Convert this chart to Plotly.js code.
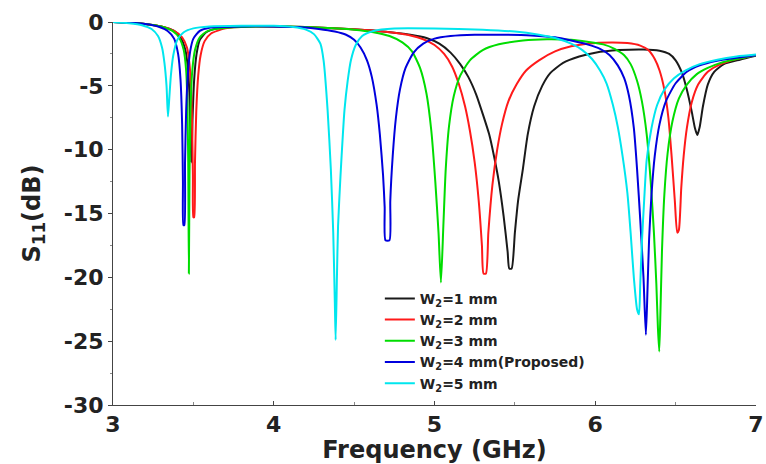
<!DOCTYPE html>
<html>
<head>
<meta charset="utf-8">
<script src="https://cdn.plot.ly/plotly-3.0.1.min.js"></script>
<style>html,body{margin:0;padding:0;background:#fff;}#chart{width:766px;height:464px;}</style>
</head>
<body>
<div id="chart"></div>
<script>
// ---- Data ----
const seriesNames = ["W<sub>2</sub>=1 mm", "W<sub>2</sub>=2 mm", "W<sub>2</sub>=3 mm", "W<sub>2</sub>=4 mm(Proposed)", "W<sub>2</sub>=5 mm"];
const seriesColors = ["#1a1a1a", "#ff1a1a", "#00dd00", "#0000dd", "#00e6ee"];

const freqW1 = [3.00,3.10,3.20,3.30,3.38,3.42,3.45,3.465,3.475,3.48,3.487,3.495,3.505,3.52,3.54,3.58,3.65,3.80,4.00,4.20,4.40,4.60,4.75,4.85,4.95,5.03,5.10,5.16,5.21,5.26,5.30,5.34,5.37,5.40,5.43,5.455,5.465,5.48,5.50,5.52,5.55,5.58,5.62,5.67,5.72,5.80,5.90,6.00,6.15,6.30,6.40,6.46,6.50,6.54,6.57,6.60,6.62,6.635,6.65,6.67,6.70,6.74,6.80,6.90,7.00];
const s11W1  = [0,-0.05,-0.15,-0.35,-0.7,-1.2,-2.2,-3.5,-5.5,-8,-11,-7.5,-4.5,-2.5,-1.4,-0.8,-0.5,-0.35,-0.35,-0.4,-0.5,-0.65,-0.85,-1.0,-1.25,-1.7,-2.4,-3.3,-4.3,-5.7,-7.2,-8.8,-10.5,-12.5,-15.2,-18,-19.3,-19.3,-16.5,-14,-11.5,-8.8,-6.6,-5.0,-4.0,-3.2,-2.7,-2.4,-2.2,-2.15,-2.25,-2.5,-3.0,-4.0,-5.3,-7.0,-8.3,-8.85,-8.2,-6.6,-4.9,-3.9,-3.3,-2.95,-2.65];

const freqW2 = [3.00,3.10,3.20,3.30,3.38,3.43,3.46,3.475,3.485,3.492,3.497,3.50,3.505,3.51,3.518,3.53,3.545,3.57,3.61,3.70,3.85,4.00,4.20,4.40,4.60,4.75,4.85,4.93,5.00,5.06,5.11,5.15,5.19,5.22,5.25,5.275,5.295,5.305,5.32,5.335,5.36,5.39,5.42,5.46,5.51,5.57,5.65,5.75,5.85,5.95,6.10,6.20,6.28,6.33,6.37,6.40,6.43,6.455,6.475,6.495,6.51,6.52,6.535,6.55,6.57,6.60,6.64,6.70,6.78,6.88,7.00];
const s11W2  = [0,-0.05,-0.15,-0.35,-0.7,-1.2,-2.0,-3.2,-5,-8,-12,-15.3,-15.3,-11,-7,-4.2,-2.6,-1.5,-0.9,-0.5,-0.35,-0.35,-0.4,-0.5,-0.65,-0.85,-1.05,-1.35,-1.8,-2.5,-3.5,-4.8,-6.6,-8.5,-11,-14,-17.5,-19.7,-19.7,-16.5,-12.8,-10,-8,-6.2,-4.9,-3.8,-3.0,-2.3,-1.9,-1.7,-1.6,-1.65,-1.85,-2.2,-2.9,-3.8,-5.3,-7.5,-10.5,-14,-16.5,-16.3,-13,-10.5,-8.3,-6.3,-4.9,-3.9,-3.3,-2.9,-2.6];

const freqW3 = [3.00,3.10,3.20,3.30,3.37,3.41,3.44,3.455,3.463,3.468,3.472,3.476,3.482,3.492,3.51,3.54,3.59,3.70,3.90,4.10,4.30,4.50,4.62,4.72,4.80,4.86,4.91,4.95,4.98,5.005,5.025,5.04,5.055,5.07,5.09,5.12,5.16,5.22,5.30,5.40,5.55,5.70,5.85,5.95,6.05,6.12,6.18,6.22,6.26,6.29,6.32,6.345,6.365,6.38,6.39,6.398,6.405,6.415,6.43,6.45,6.48,6.52,6.57,6.63,6.70,6.78,6.88,7.00];
const s11W3  = [0,-0.05,-0.15,-0.35,-0.7,-1.2,-2.2,-3.8,-6.5,-11,-19.7,-12,-7,-4,-2.2,-1.2,-0.7,-0.45,-0.35,-0.35,-0.45,-0.6,-0.8,-1.1,-1.6,-2.3,-3.6,-5.6,-8.5,-12.5,-16.5,-20.4,-16,-11.5,-8.2,-5.8,-4.2,-3.0,-2.2,-1.75,-1.45,-1.35,-1.4,-1.55,-1.75,-2.1,-2.6,-3.3,-4.6,-6.2,-8.8,-12.5,-16.5,-20.5,-24,-25.8,-23,-18,-13.5,-10.3,-7.8,-6.0,-4.9,-4.1,-3.6,-3.2,-2.9,-2.6];

const freqW4 = [3.00,3.10,3.20,3.28,3.34,3.38,3.405,3.42,3.43,3.435,3.438,3.444,3.448,3.455,3.465,3.48,3.50,3.54,3.60,3.80,4.00,4.15,4.28,4.38,4.45,4.50,4.54,4.58,4.61,4.64,4.66,4.68,4.69,4.695,4.72,4.725,4.74,4.76,4.785,4.82,4.87,4.93,5.00,5.10,5.25,5.45,5.60,5.75,5.85,5.95,6.03,6.09,6.14,6.18,6.21,6.24,6.26,6.28,6.30,6.315,6.325,6.335,6.35,6.37,6.40,6.44,6.50,6.57,6.65,6.75,6.88,7.00];
const s11W4  = [0,-0.05,-0.15,-0.35,-0.7,-1.3,-2.5,-4.5,-8,-12.5,-15.9,-15.9,-11,-7,-4.2,-2.3,-1.3,-0.7,-0.45,-0.35,-0.35,-0.4,-0.55,-0.75,-1.0,-1.4,-2.0,-3.0,-4.3,-6.5,-8.8,-12,-14.5,-17.1,-17.1,-14,-10.5,-7.5,-5.3,-3.6,-2.4,-1.7,-1.3,-1.1,-1.0,-1.0,-1.05,-1.2,-1.45,-1.75,-2.1,-2.6,-3.4,-4.4,-5.8,-8.3,-11.5,-15.5,-20,-24.5,-21,-17,-13.5,-10.5,-8.0,-6.2,-4.8,-3.9,-3.4,-3.05,-2.8,-2.6];

const freqW5 = [3.00,3.10,3.18,3.24,3.28,3.305,3.32,3.333,3.342,3.35,3.36,3.375,3.40,3.44,3.50,3.60,3.80,4.00,4.12,4.20,4.25,4.29,4.31,4.335,4.355,4.37,4.38,4.385,4.393,4.40,4.415,4.43,4.44,4.46,4.48,4.51,4.55,4.62,4.75,5.00,5.30,5.50,5.65,5.75,5.85,5.92,5.98,6.03,6.07,6.11,6.14,6.17,6.20,6.22,6.24,6.26,6.272,6.28,6.29,6.305,6.32,6.35,6.385,6.43,6.49,6.56,6.65,6.76,6.88,7.00];
const s11W5  = [0,-0.1,-0.25,-0.55,-1.1,-2.0,-3.2,-5,-7.4,-6.0,-4.2,-2.6,-1.4,-0.8,-0.5,-0.35,-0.3,-0.3,-0.4,-0.6,-0.95,-1.7,-3.0,-6.9,-11.5,-16.5,-22,-24.9,-20,-16,-12.1,-8.8,-6.9,-4.6,-3.0,-1.8,-1.1,-0.7,-0.5,-0.5,-0.6,-0.75,-1.0,-1.25,-1.7,-2.2,-2.9,-3.8,-4.8,-6.5,-8.2,-10.5,-13.4,-16.5,-20,-22.5,-22.9,-20.5,-17.3,-13.8,-10.8,-8.3,-6.5,-5.3,-4.4,-3.8,-3.3,-2.95,-2.7,-2.55];

const xTickVals = [3, 4, 5, 6, 7];
const yTickVals = [0, -5, -10, -15, -20, -25, -30];

const freqs = [freqW1, freqW2, freqW3, freqW4, freqW5];
const s11s = [s11W1, s11W2, s11W3, s11W4, s11W5];

const FONT = "DejaVu Sans, Arial, sans-serif";

const traces = freqs.map((f, i) => ({
  x: f, y: s11s[i], type: "scatter", mode: "lines",
  name: seriesNames[i],
  line: {color: seriesColors[i], width: 2, shape: "spline", smoothing: 0.6}
}));

const layout = {
  width: 766, height: 464,
  margin: {l: 113, r: 10, t: 22, b: 59},
  paper_bgcolor: "#fff", plot_bgcolor: "#fff",
  showlegend: true,
  legend: {
    x: 0.415, y: 0.319, xanchor: "left", yanchor: "top",
    bgcolor: "rgba(255,255,255,0)", borderwidth: 0,
    font: {family: FONT, size: 14, color: "#222", weight: "bold"},
    tracegroupgap: 0
  },
  xaxis: {
    range: [3, 7], tickvals: xTickVals, ticktext: xTickVals.map(String),
    ticklabeloverflow: "allow",
    showgrid: false, zeroline: false, showline: true, linecolor: "#444", linewidth: 1,
    ticks: "inside", ticklen: 4, tickcolor: "#444",
    minor: {dtick: 0.5, tick0: 3, ticks: "inside", ticklen: 3, tickcolor: "#888", showgrid: false},
    tickfont: {family: FONT, size: 22, color: "#222", weight: "bold"},
    title: {text: "Frequency (GHz)", standoff: 2, font: {family: FONT, size: 24, color: "#222", weight: "bold"}}
  },
  yaxis: {
    range: [-30, 0], tickvals: yTickVals, ticktext: yTickVals.map(String),
    showgrid: false, zeroline: false, showline: true, linecolor: "#444", linewidth: 1,
    ticks: "outside", ticklen: 4, tickcolor: "#444",
    minor: {dtick: 2.5, tick0: 0, ticks: "outside", ticklen: 2, tickcolor: "#888", showgrid: false},
    tickfont: {family: FONT, size: 22, color: "#222", weight: "bold"},
    title: {text: "S<sub>11</sub>(dB)", standoff: 16, font: {family: FONT, size: 24, color: "#222", weight: "bold"}}
  }
};

Plotly.newPlot("chart", traces, layout, {displayModeBar: false, staticPlot: true});
</script>
</body>
</html>
